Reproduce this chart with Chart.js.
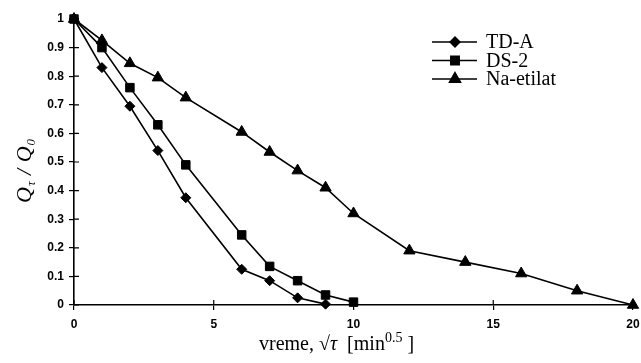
<!DOCTYPE html>
<html lang="sr">
<head>
  <meta charset="UTF-8">
  <title>Qτ/Q0 - vreme</title>
  <script src="https://cdn.jsdelivr.net/npm/chart.js"></script>
  <style>
    body { margin: 0; background: #fff; }
    canvas { display: block; }
  </style>
</head>
<body>
  <canvas id="c" width="641" height="363"></canvas>

  <script>
    // data (x = sqrt(tau), y = Q_tau / Q_0)
    const tdaX = [0, 1, 2, 3, 4, 6, 7, 8, 9];
    const tdaY = [1, 0.83, 0.695, 0.54, 0.375, 0.125, 0.085, 0.025, 0.003];
    const ds2X = [0, 1, 2, 3, 4, 6, 7, 8, 9, 10];
    const ds2Y = [1, 0.9, 0.76, 0.63, 0.49, 0.245, 0.135, 0.085, 0.035, 0.01];
    const naX = [0, 1, 2, 3, 4, 6, 7, 8, 9, 10, 12, 14, 16, 18, 20];
    const naY = [1, 0.925, 0.845, 0.795, 0.725, 0.605, 0.535, 0.47, 0.41, 0.32, 0.19, 0.15, 0.11, 0.05, 0];
    const seriesNames = ['TD-A', 'DS-2', 'Na-etilat'];
    const xTicks = [0, 5, 10, 15, 20];

    const pts = (xs, ys) => xs.map((x, i) => ({ x: x, y: ys[i] }));
    const serif = '"Liberation Serif", "Times New Roman", serif';

    function ds(label, data, style, radius) {
      return {
        label: label,
        data: data,
        showLine: true,
        borderColor: '#000',
        backgroundColor: '#000',
        borderWidth: 1.6,
        pointStyle: style,
        pointRadius: radius,
        pointHoverRadius: radius,
        pointBackgroundColor: '#000',
        pointBorderColor: '#000',
        pointBorderWidth: 1,
        tension: 0,
        clip: false
      };
    }

    // short tick marks on the inner side, legend, and axis titles
    const extras = {
      id: 'extras',
      afterDraw(chart) {
        const c = chart.ctx;
        const xs = chart.scales.x, ys = chart.scales.y;
        const a = chart.chartArea;
        c.save();
        c.strokeStyle = '#000';
        c.lineWidth = 1.2;
        c.beginPath();
        xTicks.forEach(v => {
          const px = xs.getPixelForValue(v);
          c.moveTo(px, a.bottom);
          c.lineTo(px, a.bottom - 5);
        });
        for (let v = 0; v <= 10; v++) {
          const py = ys.getPixelForValue(v / 10);
          c.moveTo(a.left, py);
          c.lineTo(a.left + 5, py);
        }
        c.stroke();

        // legend
        chart.data.datasets.forEach((d, i) => {
          const y = 42 + 18.5 * i;
          c.lineWidth = 1.4;
          c.beginPath();
          c.moveTo(432, y);
          c.lineTo(477, y);
          c.stroke();
          c.fillStyle = '#000';
          Chart.helpers.drawPoint(c, { pointStyle: d.pointStyle, radius: d.pointRadius, rotation: 0, borderWidth: 1 }, 455, y);
          c.font = '20px ' + serif;
          c.textAlign = 'left';
          c.textBaseline = 'middle';
          c.fillText(d.label, 486, y + 1);
        });

        // x title: vreme, √τ [min^0.5 ]
        c.fillStyle = '#000';
        c.textBaseline = 'alphabetic';
        c.textAlign = 'left';
        let x = 259;
        const by = 350;
        const parts = [
          ['vreme, √', '20px ' + serif, 0],
          ['τ', 'italic 20px ' + serif, 0],
          ['  [min', '20px ' + serif, 0],
          ['0.5', '14px ' + serif, -8],
          [' ]', '20px ' + serif, 0]
        ];
        parts.forEach(p => {
          c.font = p[1];
          c.fillText(p[0], x, by + p[2]);
          x += c.measureText(p[0]).width;
        });

        // y title: Q_tau / Q_0 (rotated)
        c.translate(31, 203);
        c.rotate(-Math.PI / 2);
        x = 0;
        const yparts = [
          ['Q', 'italic 22px ' + serif, 0],
          ['τ', 'italic 13px ' + serif, 4],
          [' / ', 'italic 22px ' + serif, 0],
          ['Q', 'italic 22px ' + serif, 0],
          ['0', 'italic 13px ' + serif, 4]
        ];
        yparts.forEach(p => {
          c.font = p[1];
          c.fillText(p[0], x, p[2]);
          x += c.measureText(p[0]).width + 1;
        });
        c.restore();
      }
    };

    new Chart(document.getElementById('c'), {
      type: 'scatter',
      data: {
        datasets: [
          ds(seriesNames[0], pts(tdaX, tdaY), 'rectRot', 5),
          ds(seriesNames[1], pts(ds2X, ds2Y), 'rect', 6),
          ds(seriesNames[2], pts(naX, naY), 'triangle', 6.5)
        ]
      },
      options: {
        responsive: false,
        animation: false,
        events: [],
        layout: { padding: { top: 19, right: 8, left: 0, bottom: 0 } },
        plugins: {
          legend: { display: false },
          tooltip: { enabled: false }
        },
        scales: {
          x: {
            type: 'linear',
            min: 0,
            max: 20,
            afterBuildTicks: s => { s.ticks = xTicks.map(v => ({ value: v })); },
            afterFit: s => { s.height = 58; s.paddingRight = 0; s.paddingLeft = 0; },
            border: { color: '#000', width: 1.6 },
            grid: { drawOnChartArea: false, color: '#000', tickLength: 5, lineWidth: 1.2 },
            ticks: {
              color: '#000',
              padding: 7,
              maxRotation: 0,
              font: { family: 'Arial, "Liberation Sans", sans-serif', size: 12, weight: 'bold' }
            }
          },
          y: {
            min: 0,
            max: 1,
            afterFit: s => { s.width = 74; s.paddingTop = 0; s.paddingBottom = 0; },
            border: { color: '#000', width: 1.6 },
            grid: { drawOnChartArea: false, color: '#000', tickLength: 5, lineWidth: 1.2 },
            ticks: {
              stepSize: 0.1,
              color: '#000',
              padding: 5,
              font: { family: 'Arial, "Liberation Sans", sans-serif', size: 12, weight: 'bold' },
              callback: v => String(Math.round(v * 10) / 10)
            }
          }
        }
      },
      plugins: [extras]
    });
  </script>
</body>
</html>
